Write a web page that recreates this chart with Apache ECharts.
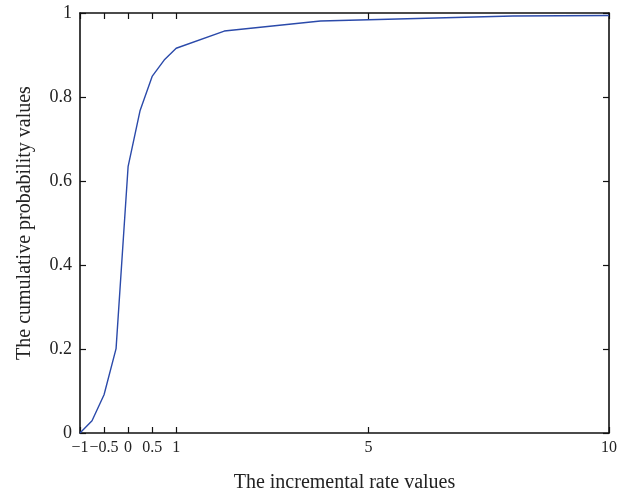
<!DOCTYPE html>
<html>
<head>
<meta charset="utf-8">
<script src="https://cdn.jsdelivr.net/npm/echarts@6/dist/echarts.min.js"></script>
<style>html,body{margin:0;padding:0;background:#fff;}#c{width:632px;height:498px;}</style>
</head>
<body>
<div id="c"></div>
<script>
var xValues = [-1, -0.75, -0.5, -0.25, 0, 0.25, 0.5, 0.75, 1, 2, 4, 8, 10];
var yValues = [0, 0.029, 0.091, 0.201, 0.634, 0.768, 0.849, 0.888, 0.916, 0.957, 0.981, 0.993, 0.994];
var xTicks = [-1, -0.5, 0, 0.5, 1, 5, 10];
var yTicks = [0, 0.2, 0.4, 0.6, 0.8, 1];
var xTitle = 'The incremental rate values';
var yTitle = 'The cumulative probability values';

var FONT = 'Liberation Serif';
var chart = echarts.init(document.getElementById('c'), null, {renderer: 'canvas'});
function fmtX(v){ var s = String(v); return v < 0 ? '\u2212' + s.slice(1) : s; }
var axisLine = {show: true, onZero: false, lineStyle: {color: '#111', width: 1.6}};
var tick = {show: true, inside: true, length: 6, lineStyle: {color: '#111', width: 1.2}};
chart.setOption({
  animation: false,
  backgroundColor: '#fff',
  grid: {left: 80, right: 23, top: 13, bottom: 63, containLabel: false},
  xAxis: [{
    type: 'value', min: -1, max: 10, position: 'bottom',
    name: xTitle, nameLocation: 'middle', nameGap: 40,
    nameTextStyle: {fontFamily: FONT, fontSize: 20, color: '#222'},
    axisLine: axisLine,
    axisTick: Object.assign({customValues: xTicks}, tick),
    axisLabel: {show: true, customValues: xTicks, formatter: fmtX, fontFamily: FONT, fontSize: 16, color: '#222', margin: 7,
      interval: 0, showMinLabel: true, showMaxLabel: true, hideOverlap: false},
    splitLine: {show: false}
  }, {
    type: 'value', min: -1, max: 10, position: 'top',
    axisLine: axisLine,
    axisTick: Object.assign({customValues: xTicks}, tick),
    axisLabel: {show: false},
    splitLine: {show: false}
  }],
  yAxis: [{
    type: 'value', min: 0, max: 1, position: 'left',
    name: yTitle, nameLocation: 'middle', nameGap: 45,
    nameTextStyle: {fontFamily: FONT, fontSize: 20, color: '#222'},
    axisLine: axisLine,
    axisTick: Object.assign({customValues: yTicks}, tick),
    axisLabel: {show: true, customValues: yTicks, fontFamily: FONT, fontSize: 18, color: '#222', margin: 8,
      interval: 0, showMinLabel: true, showMaxLabel: true,
      formatter: function(v){ return String(+(+v).toFixed(1)); }},
    splitLine: {show: false}
  }, {
    type: 'value', min: 0, max: 1, position: 'right',
    axisLine: axisLine,
    axisTick: Object.assign({customValues: yTicks}, tick),
    axisLabel: {show: false},
    splitLine: {show: false}
  }],
  series: [{
    type: 'line', xAxisIndex: 0, yAxisIndex: 0,
    data: xValues.map(function(x, i){ return [x, yValues[i]]; }),
    showSymbol: false, symbol: 'none',
    lineStyle: {color: '#2b4aaa', width: 1.4}
  }]
});
</script>
</body>
</html>
